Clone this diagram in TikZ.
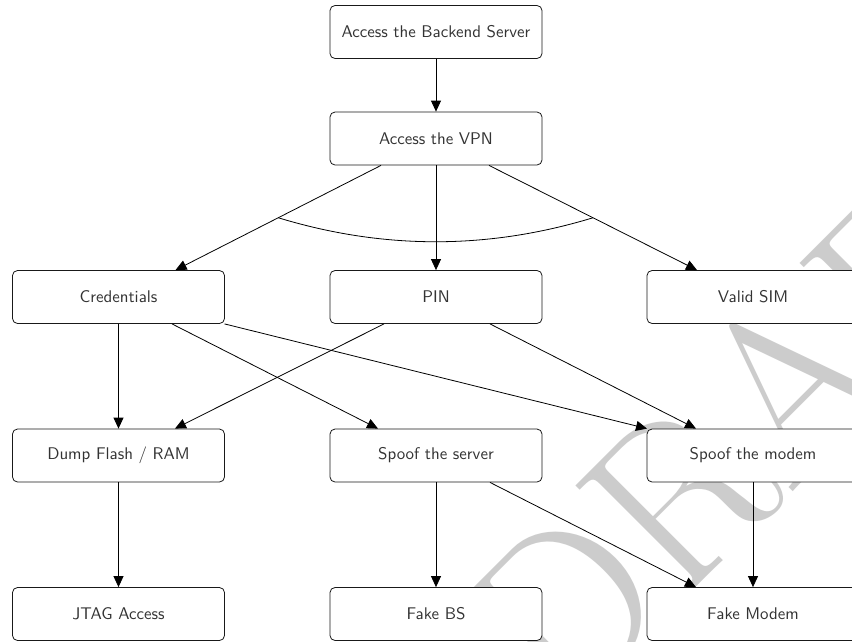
\documentclass[tikz,border=0pt]{standalone}
\usetikzlibrary{arrows.meta,calc}
% box labels: the 10pt design of the sans face, enlarged
\newcommand\boxlabel[1]{\scalebox{1.69}{\sffamily\fontsize{10}{12}\selectfont #1}}
\begin{document}
\begin{tikzpicture}[x=1pt,y=-1pt,
  box/.style={draw=black!90,line width=0.8pt,fill=white,rounded corners=5pt,
    minimum width=212pt,minimum height=53pt,inner sep=0pt,text=black!80},
  arr/.style={draw=black,line width=0.8pt,-{Triangle[length=11pt,width=10pt]}},
  wmark/.style={rotate=45,text=black!20,inner sep=0pt,
    font=\rmfamily\fontsize{230}{230}\selectfont}]
\clip (0,0) rectangle (852,641);
\fill[white] (0,0) rectangle (852,641);
% watermark behind the diagram
\node[wmark] (wm) at (780,392) {DRAFT};

% nodes
\node[box] (top)    at (436,32)    {\boxlabel{Access the Backend Server}};
\node[box] (vpn)    at (436,138.5) {\boxlabel{Access the VPN}};
\node[box] (cred)   at (118.5,297) {\boxlabel{Credentials}};
\node[box] (pin)    at (436,297)   {\boxlabel{PIN}};
\node[box] (sim)    at (753,297)   {\boxlabel{Valid SIM}};
\node[box] (dump)   at (118.5,455.5) {\boxlabel{Dump Flash / RAM}};
\node[box] (spoofs) at (436,455.5) {\boxlabel{Spoof the server}};
\node[box] (spoofm) at (753,455.5) {\boxlabel{Spoof the modem}};
\node[box] (jtag)   at (118.5,614) {\boxlabel{JTAG Access}};
\node[box] (fbs)    at (436,614)   {\boxlabel{Fake BS}};
\node[box] (fm)     at (753,614)   {\boxlabel{Fake Modem}};

% connectors
\draw[arr] (top) -- (vpn);
\draw[arr] ([xshift=-55pt]vpn.south) -- ([xshift=57pt]cred.north) coordinate[pos=0.5] (andL);
\draw[arr] (vpn) -- (pin);
\draw[arr] ([xshift=53pt]vpn.south) -- ([xshift=-56pt]sim.north) coordinate[pos=0.5] (andR);
% AND arc joining the three branches
\draw[line width=0.8pt] (andL) .. controls ($(andL)+(105,32)$) and ($(andR)+(-105,32)$) .. (andR);

\draw[arr] (cred) -- (dump);
\draw[arr] ([xshift=53.5pt]cred.south) -- ([xshift=-58pt]spoofs.north);
\draw[arr] ([xshift=106pt]cred.south) -- ([xshift=-106pt]spoofm.north);
\draw[arr] ([xshift=-52pt]pin.south) -- ([xshift=56.5pt]dump.north);
\draw[arr] ([xshift=54pt]pin.south) -- ([xshift=-57pt]spoofm.north);

\draw[arr] (dump) -- (jtag);
\draw[arr] (spoofs) -- (fbs);
\draw[arr] ([xshift=54pt]spoofs.south) -- ([xshift=-57pt]fm.north);
\draw[arr] (spoofm) -- (fm);
\end{tikzpicture}
\end{document}
